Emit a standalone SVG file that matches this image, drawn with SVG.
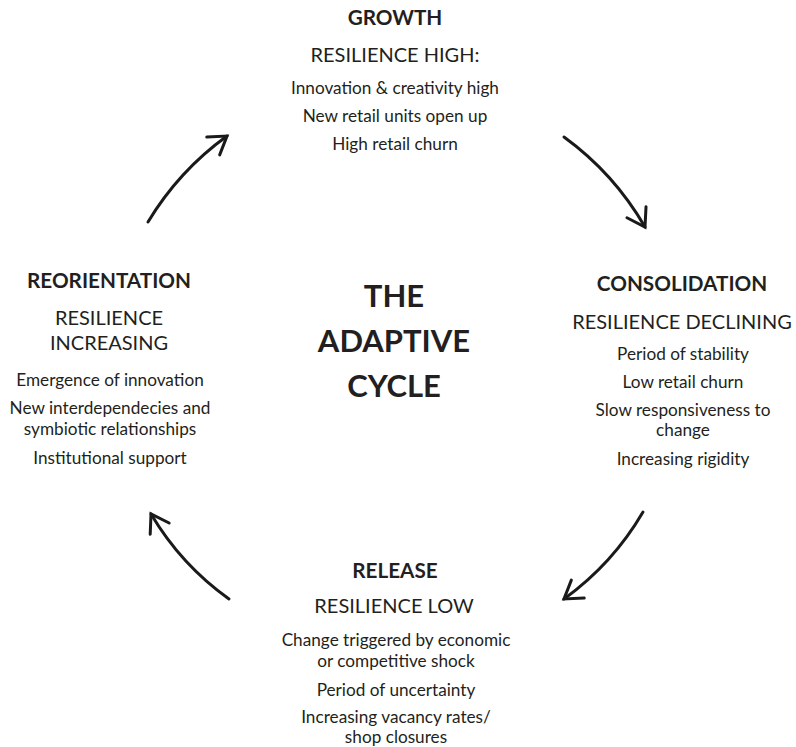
<svg xmlns="http://www.w3.org/2000/svg" width="796" height="747" viewBox="0 0 796 747">
<style>
text{font-family:Lato,"Open Sans","Liberation Sans",sans-serif;fill:#231f20;text-anchor:middle}
.t{font-weight:bold;font-size:20.7px}
.h{font-size:20px}
.b{font-size:17.2px}
.c{font-weight:bold;font-size:31px}
.arr{fill:none;stroke:#1a1a1a;stroke-width:3;stroke-linecap:round;marker-end:url(#ah)}
</style>
<defs>
<marker id="ah" markerUnits="userSpaceOnUse" markerWidth="30" markerHeight="30" refX="0" refY="0" viewBox="-22 -15 30 30" orient="auto">
<path d="M-17,-11 L0,0 L-17,11" fill="none" stroke="#1a1a1a" stroke-width="3" stroke-linecap="round" stroke-linejoin="miter"/>
</marker>
</defs>
<g id="connectors">
<path class="arr" d="M564,137 A292 292 0 0 1 645,227"/>
<path class="arr" d="M643,512 A284 284 0 0 1 564,599"/>
<path class="arr" d="M229,599 A280 280 0 0 1 151,514"/>
<path class="arr" d="M148,222 A292 292 0 0 1 227,136"/>
</g>
<g id="growth">
<text class="t" x="395" y="25">GROWTH</text>
<text class="h" x="395" y="62">RESILIENCE HIGH:</text>
<text class="b" x="395" y="94">Innovation &amp; creativity high</text>
<text class="b" x="395" y="122">New retail units open up</text>
<text class="b" x="395" y="150">High retail churn</text>
</g>
<g id="consolidation">
<text class="t" x="682" y="291">CONSOLIDATION</text>
<text class="h" x="682" y="329">RESILIENCE DECLINING</text>
<text class="b" x="683" y="360">Period of stability</text>
<text class="b" x="683" y="388">Low retail churn</text>
<text class="b" x="683" y="416">Slow responsiveness to</text>
<text class="b" x="683" y="436">change</text>
<text class="b" x="683" y="465">Increasing rigidity</text>
</g>
<g id="release">
<text class="t" x="395" y="578">RELEASE</text>
<text class="h" x="394" y="613">RESILIENCE LOW</text>
<text class="b" x="396" y="646">Change triggered by economic</text>
<text class="b" x="396" y="667">or competitive shock</text>
<text class="b" x="396" y="696">Period of uncertainty</text>
<text class="b" x="396" y="723">Increasing vacancy rates/</text>
<text class="b" x="396" y="743">shop closures</text>
</g>
<g id="reorientation">
<text class="t" x="109" y="288">REORIENTATION</text>
<text class="h" x="109" y="325">RESILIENCE</text>
<text class="h" x="109" y="350">INCREASING</text>
<text class="b" x="110" y="386">Emergence of innovation</text>
<text class="b" x="110" y="414">New interdependecies and</text>
<text class="b" x="110" y="435">symbiotic relationships</text>
<text class="b" x="110" y="464">Institutional support</text>
</g>
<g id="center">
<text class="c" x="394" y="307">THE</text>
<text class="c" x="394" y="352">ADAPTIVE</text>
<text class="c" x="394" y="397">CYCLE</text>
</g>
</svg>
